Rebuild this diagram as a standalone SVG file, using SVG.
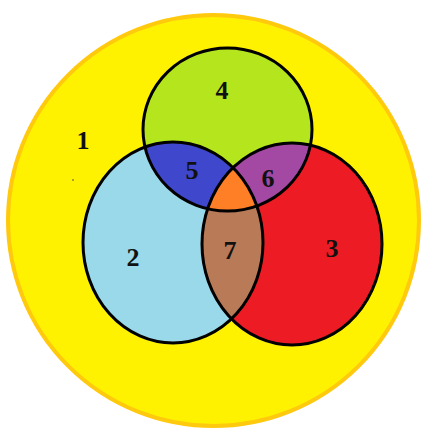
<svg xmlns="http://www.w3.org/2000/svg" width="421" height="430" viewBox="0 0 421 430">
<style>
.ol{fill:none;stroke:#000;stroke-width:3}
.lbl{font-family:"Liberation Serif","Times New Roman",serif;font-weight:bold;font-size:26px;fill:#111;text-anchor:middle}
</style>
<defs>
<ellipse id="eG" cx="227.5" cy="129.5" rx="84.5" ry="81.5"/>
<ellipse id="eB" cx="173" cy="242.5" rx="90" ry="100.5"/>
<ellipse id="eR" cx="292" cy="244" rx="90" ry="101"/>
<clipPath id="cB"><use href="#eB"/></clipPath>
<clipPath id="cR"><use href="#eR"/></clipPath>
</defs>
<rect width="421" height="430" fill="#fff"/>
<g id="universe">
<circle cx="213.5" cy="220.5" r="205.5" fill="#FFF200" stroke="#FFC90E" stroke-width="4"/>
<circle cx="73" cy="180" r="1" fill="#8a8a40"/>
</g>
<g id="setB"><use href="#eB" fill="#99D9EA"/></g>
<g id="setR"><use href="#eR" fill="#ED1C24"/></g>
<g id="region7"><use href="#eR" fill="#B97A57" clip-path="url(#cB)"/></g>
<g id="setG"><use href="#eG" fill="#B5E61D"/></g>
<g id="region5"><use href="#eG" fill="#3F48CC" clip-path="url(#cB)"/></g>
<g id="region6"><use href="#eG" fill="#A349A4" clip-path="url(#cR)"/></g>
<g id="regionOrange" clip-path="url(#cB)"><use href="#eG" fill="#FF7F27" clip-path="url(#cR)"/></g>
<g id="outlines">
<use href="#eB" class="ol"/>
<use href="#eR" class="ol"/>
<use href="#eG" class="ol"/>
</g>
<g id="labels">
<text class="lbl" x="83" y="149">1</text>
<text class="lbl" x="133" y="266">2</text>
<text class="lbl" x="332" y="257">3</text>
<text class="lbl" x="222" y="99">4</text>
<text class="lbl" x="192" y="179">5</text>
<text class="lbl" x="268" y="187">6</text>
<text class="lbl" x="230" y="259">7</text>
</g>
</svg>
